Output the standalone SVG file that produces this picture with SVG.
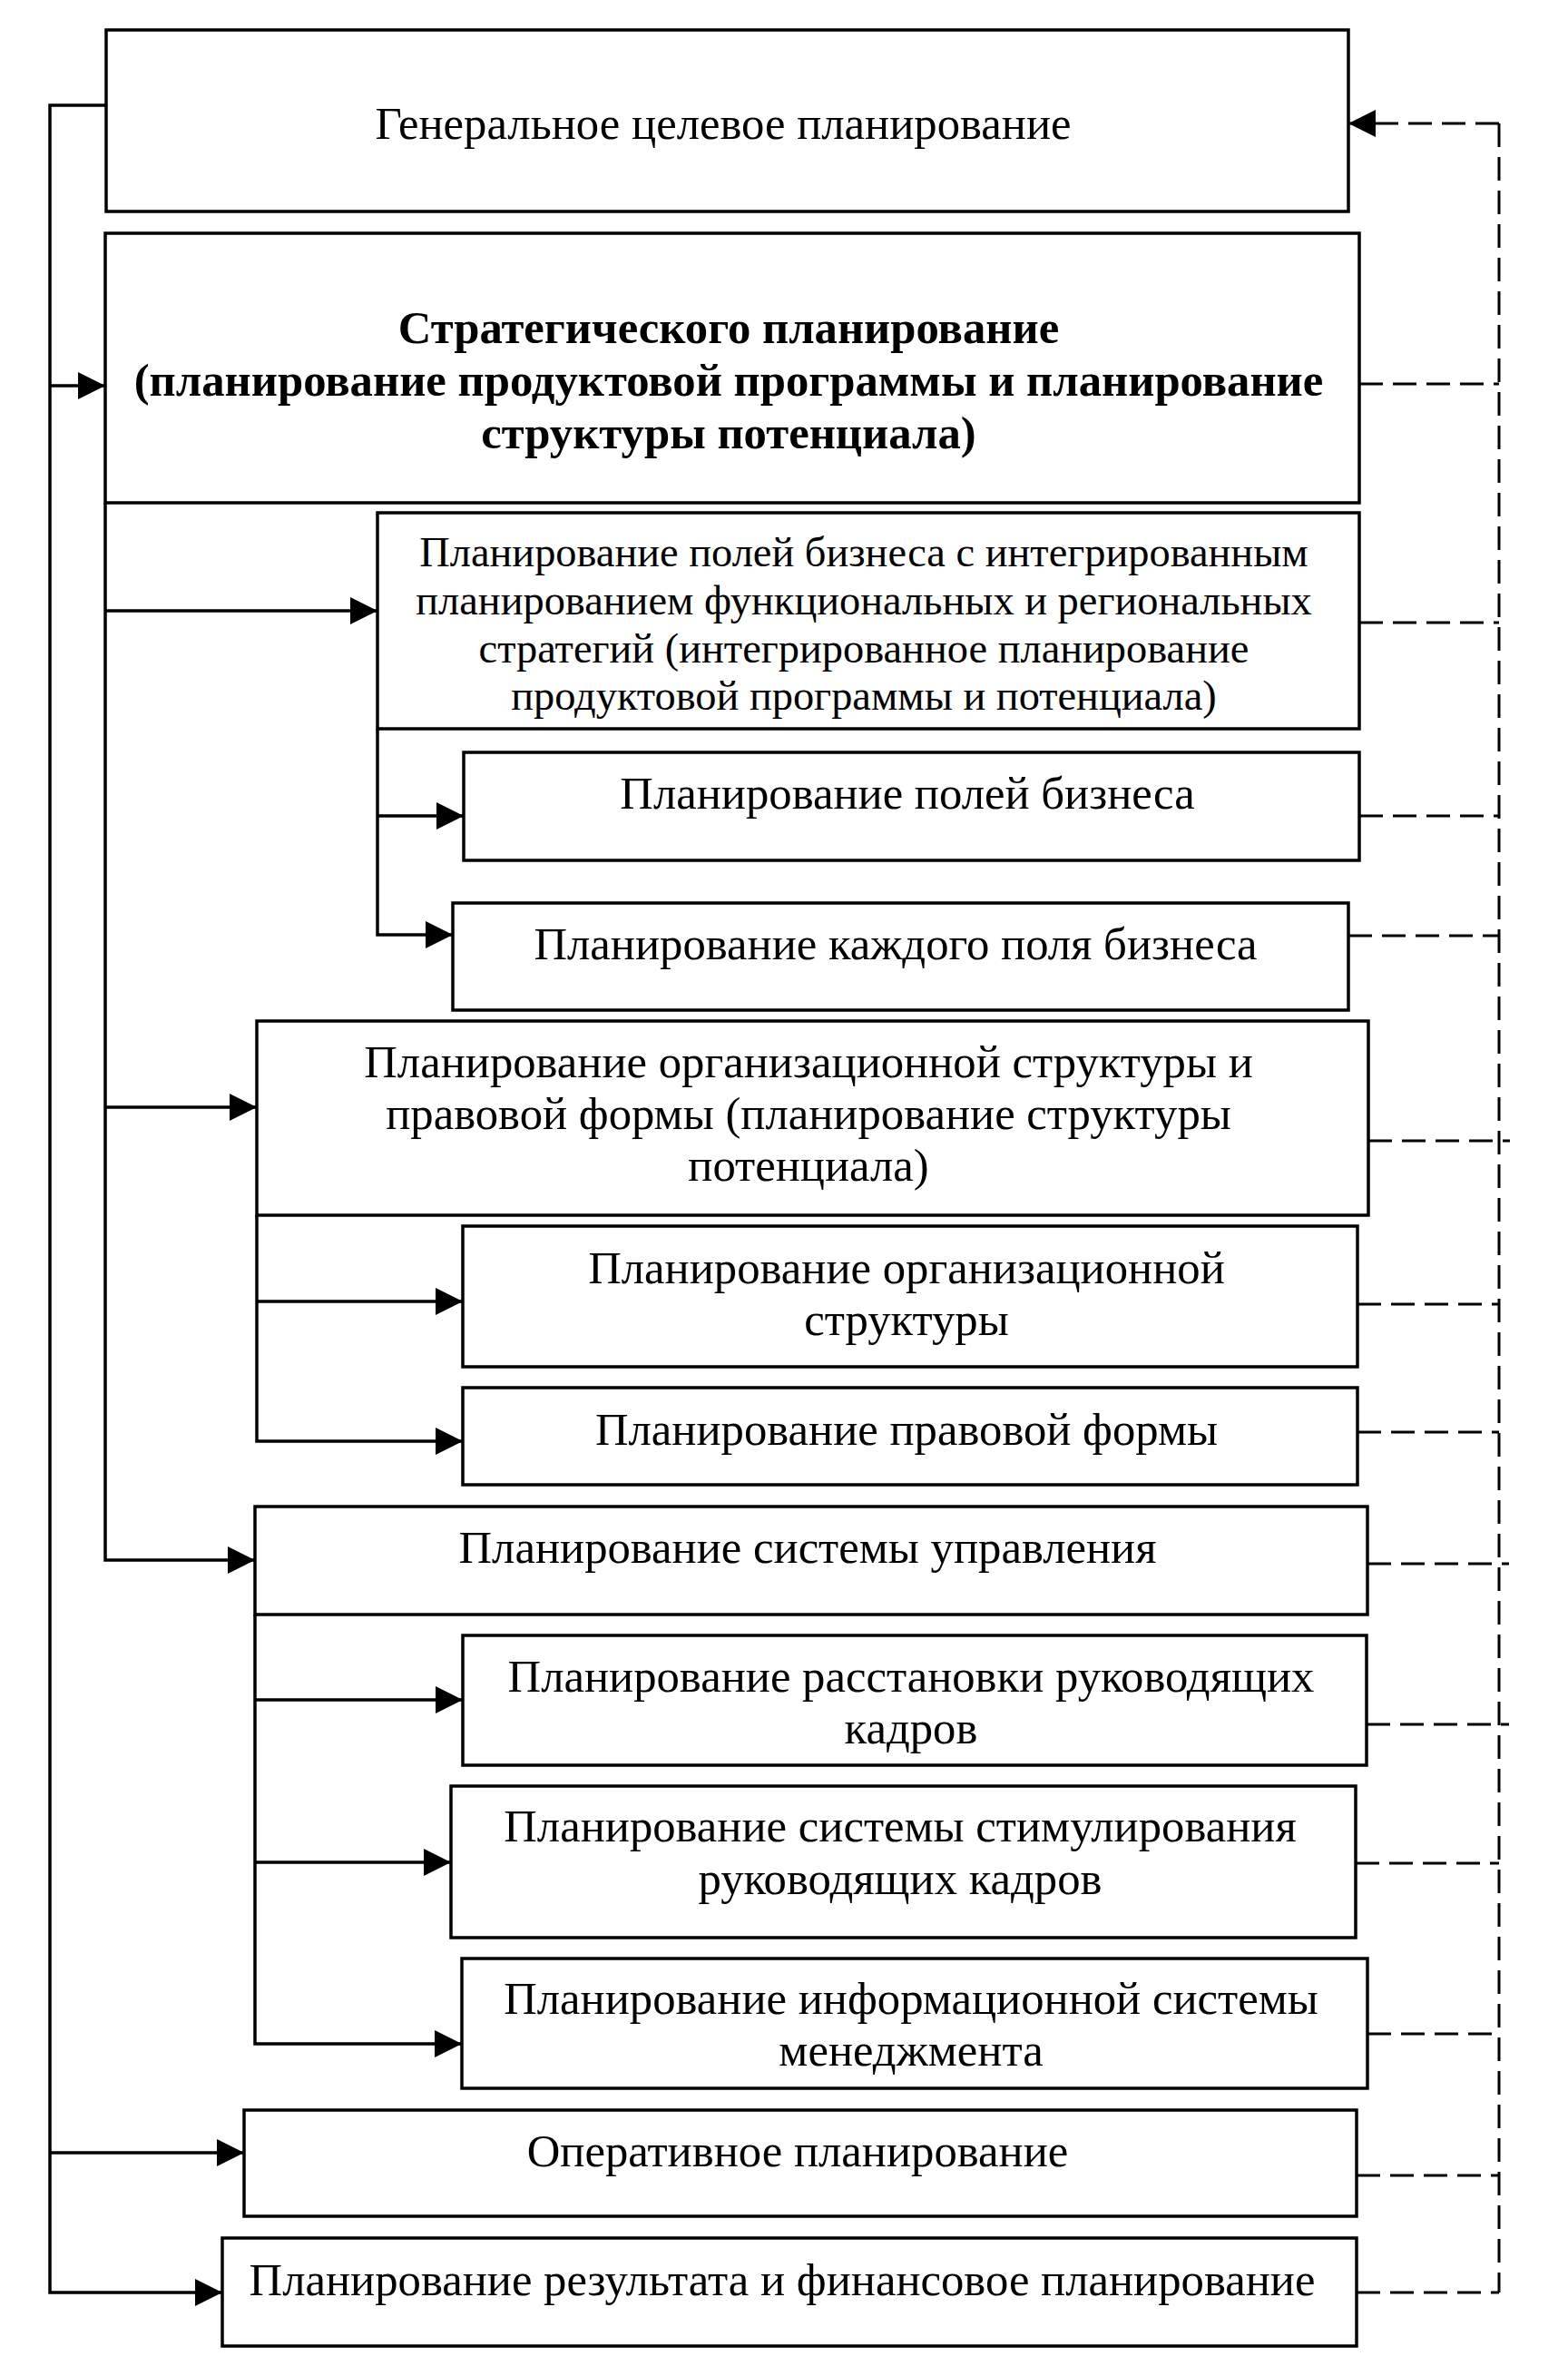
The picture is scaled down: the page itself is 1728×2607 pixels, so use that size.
<svg xmlns="http://www.w3.org/2000/svg" width="1728" height="2607" viewBox="0 0 1728 2607">
<defs>
<marker id="arr" markerUnits="userSpaceOnUse" markerWidth="30" markerHeight="30" viewBox="0 0 30 30" refX="30" refY="15" orient="auto">
<path d="M0,0 L30,15 L0,30 Z" fill="#000" stroke="none"/>
</marker>
</defs>
<style>
.box{fill:#fff;stroke:#000;stroke-width:3.5}
.t{font-family:"Liberation Serif","Times New Roman",serif;font-size:50.7px;fill:#000;text-anchor:middle}
.s{font-size:46.4px}
.b{font-weight:bold}
.c{fill:none;stroke:#000;stroke-width:3.5}
.d{fill:none;stroke:#000;stroke-width:3;stroke-dasharray:26 11}
</style>
<rect width="1728" height="2607" fill="#fff"/>
<g id="connectors">
<path class="c" d="M117,116 H55 V2526 H245" marker-end="url(#arr)"/>
<path class="c" d="M55,425 H116" marker-end="url(#arr)"/>
<path class="c" d="M55,2372 H269" marker-end="url(#arr)"/>
<path class="c" d="M116,554 V1719 H281" marker-end="url(#arr)"/>
<path class="c" d="M116,673 H416" marker-end="url(#arr)"/>
<path class="c" d="M116,1220 H283" marker-end="url(#arr)"/>
<path class="c" d="M416,803 V1030 H499" marker-end="url(#arr)"/>
<path class="c" d="M416,899 H511" marker-end="url(#arr)"/>
<path class="c" d="M283,1339 V1588 H510" marker-end="url(#arr)"/>
<path class="c" d="M283,1434 H510" marker-end="url(#arr)"/>
<path class="c" d="M281,1779 V2252 H509" marker-end="url(#arr)"/>
<path class="c" d="M281,1873 H510" marker-end="url(#arr)"/>
<path class="c" d="M281,2052 H497" marker-end="url(#arr)"/>
<path class="d" d="M1652,136 V2526"/>
<path class="d" d="M1652,136 H1486" marker-end="url(#arr)"/>
<path class="d" d="M1498,423 H1652"/>
<path class="d" d="M1498,686 H1652"/>
<path class="d" d="M1498,899 H1652"/>
<path class="d" d="M1486,1031 H1652"/>
<path class="d" d="M1508,1257 H1664"/>
<path class="d" d="M1496,1437 H1652"/>
<path class="d" d="M1496,1578 H1652"/>
<path class="d" d="M1507,1723 H1663"/>
<path class="d" d="M1506,1900 H1663"/>
<path class="d" d="M1494,2053 H1652"/>
<path class="d" d="M1507,2241 H1652"/>
<path class="d" d="M1495,2397 H1652"/>
<path class="d" d="M1495,2526 H1652"/>
</g>
<g id="n1"><rect class="box" x="117" y="33" width="1369" height="200"/>
<text class="t" x="797" y="153">Генеральное целевое планирование</text></g>
<g id="n2"><rect class="box" x="116" y="257" width="1382" height="297"/>
<text class="t b" x="803" y="378">Стратегического планирование</text>
<text class="t b" x="803" y="436">(планирование продуктовой программы и планирование</text>
<text class="t b" x="803" y="494">структуры потенциала)</text></g>
<g id="n3"><rect class="box" x="416" y="565" width="1082" height="238"/>
<text class="t s" x="952" y="624">Планирование полей бизнеса с интегрированным</text>
<text class="t s" x="952" y="677">планированием функциональных и региональных</text>
<text class="t s" x="952" y="730">стратегий (интегрированное планирование</text>
<text class="t s" x="952" y="782">продуктовой программы и потенциала)</text></g>
<g id="n4"><rect class="box" x="511" y="829" width="987" height="119"/>
<text class="t" x="1000" y="891">Планирование полей бизнеса</text></g>
<g id="n5"><rect class="box" x="499" y="995" width="987" height="118"/>
<text class="t" x="987" y="1057">Планирование каждого поля бизнеса</text></g>
<g id="n6"><rect class="box" x="283" y="1125" width="1225" height="214"/>
<text class="t" x="891" y="1187">Планирование организационной структуры и</text>
<text class="t" x="891" y="1244">правовой формы (планирование структуры</text>
<text class="t" x="891" y="1301">потенциала)</text></g>
<g id="n7"><rect class="box" x="510" y="1351" width="986" height="155"/>
<text class="t" x="999" y="1414">Планирование организационной</text>
<text class="t" x="999" y="1471">структуры</text></g>
<g id="n8"><rect class="box" x="510" y="1529" width="986" height="107"/>
<text class="t" x="999" y="1592">Планирование правовой формы</text></g>
<g id="n9"><rect class="box" x="281" y="1660" width="1226" height="119"/>
<text class="t" x="890" y="1722">Планирование системы управления</text></g>
<g id="n10"><rect class="box" x="510" y="1802" width="996" height="143"/>
<text class="t" x="1004" y="1864">Планирование расстановки руководящих</text>
<text class="t" x="1004" y="1921">кадров</text></g>
<g id="n11"><rect class="box" x="497" y="1968" width="997" height="167"/>
<text class="t" x="992" y="2029">Планирование системы стимулирования</text>
<text class="t" x="992" y="2087">руководящих кадров</text></g>
<g id="n12"><rect class="box" x="509" y="2158" width="998" height="143"/>
<text class="t" x="1004" y="2219">Планирование информационной системы</text>
<text class="t" x="1004" y="2276">менеджмента</text></g>
<g id="n13"><rect class="box" x="269" y="2325" width="1226" height="117"/>
<text class="t" x="879" y="2387">Оперативное планирование</text></g>
<g id="n14"><rect class="box" x="245" y="2466" width="1250" height="119"/>
<text class="t" x="862" y="2529">Планирование результата и финансовое планирование</text></g>
</svg>
